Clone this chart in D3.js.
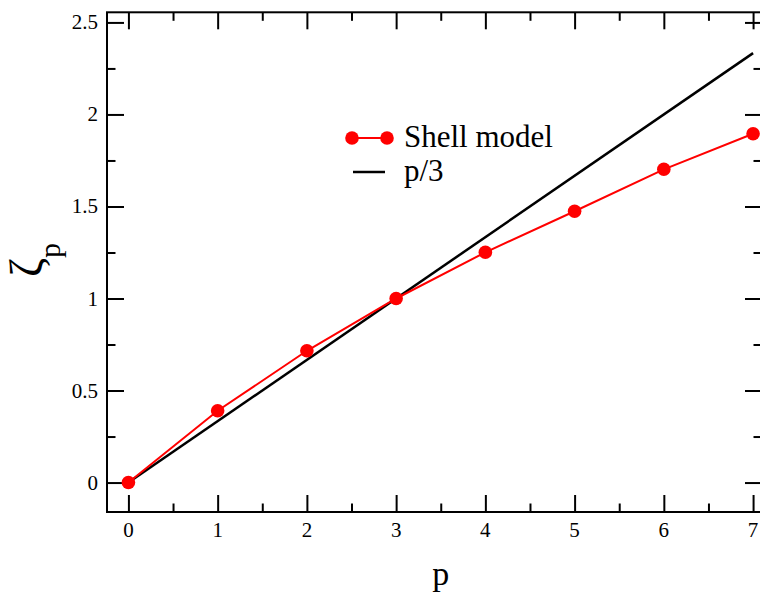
<!DOCTYPE html>
<html>
<head>
<meta charset="utf-8">
<script src="https://cdn.jsdelivr.net/npm/d3@7"></script>
<style>
  html, body { margin: 0; padding: 0; background: #fff; }
  svg { display: block; }
  text { font-family: "Liberation Serif", "Times New Roman", Times, "DejaVu Serif", serif; fill: #000; }
</style>
</head>
<body>
<svg id="chart" width="760" height="597"></svg>
<script>
// Scaling exponents zeta_p of the shell model vs. order p
const orders = [0, 1, 2, 3, 4, 5, 6, 7];
const shellZeta = [0, 0.39, 0.716, 1.0, 1.251, 1.474, 1.702, 1.895];
// K41 prediction p/3, drawn between its end points
const k41P = [0, 7];
const k41Zeta = [0, 7 / 3];

const xTicks = [0, 1, 2, 3, 4, 5, 6, 7];
const yTicks = [0, 0.5, 1, 1.5, 2, 2.5];
const yTickLabels = ["0", "0.5", "1", "1.5", "2", "2.5"];
const legendLabels = ["Shell model", "p/3"];

const svg = d3.select("#chart");
const plotLeft = 107, plotRight = 762, plotTop = 12.3, plotBottom = 512;

const x = d3.scaleLinear().domain([-0.24, 7.1]).range([plotLeft, plotRight]);
const y = d3.scaleLinear().domain([-0.16, 2.555]).range([plotBottom, plotTop]);

const majorLen = 17, minorLen = 8.5;
const xMinor = d3.range(0, 7.01, 0.5).filter(v => !xTicks.includes(v));
const yMinor = d3.range(0, 2.51, 0.25).filter(v => !yTicks.includes(v));

function tickAxis(axisGen, ticks, len, transform) {
  const g = svg.append("g").attr("transform", transform)
    .call(axisGen.tickValues(ticks).tickSize(len).tickSizeOuter(0).tickFormat(""));
  g.select(".domain").remove();
  g.selectAll(".tick line").attr("stroke", "#000").attr("stroke-width", 2);
  return g;
}

// inward ticks on all four sides
tickAxis(d3.axisTop(x), xTicks, majorLen, `translate(0,${plotBottom})`);
tickAxis(d3.axisTop(x), xMinor, minorLen, `translate(0,${plotBottom})`);
tickAxis(d3.axisBottom(x), xTicks, majorLen, `translate(0,${plotTop})`);
tickAxis(d3.axisBottom(x), xMinor, minorLen, `translate(0,${plotTop})`);
tickAxis(d3.axisRight(y), yTicks, majorLen, `translate(${plotLeft},0)`);
tickAxis(d3.axisRight(y), yMinor, minorLen, `translate(${plotLeft},0)`);
tickAxis(d3.axisLeft(y), yTicks, majorLen, `translate(${plotRight},0)`);
tickAxis(d3.axisLeft(y), yMinor, minorLen, `translate(${plotRight},0)`);

// frame
svg.append("rect")
  .attr("x", plotLeft).attr("y", plotTop)
  .attr("width", plotRight - plotLeft).attr("height", plotBottom - plotTop)
  .attr("fill", "none").attr("stroke", "#000").attr("stroke-width", 2);

// tick labels
svg.append("g").selectAll("text").data(xTicks).join("text")
  .attr("x", d => x(d)).attr("y", 537)
  .attr("text-anchor", "middle").attr("font-size", 21)
  .text(d => d);
svg.append("g").selectAll("text").data(yTicks).join("text")
  .attr("x", 98).attr("y", d => y(d) + 7)
  .attr("text-anchor", "end").attr("font-size", 21)
  .text((d, i) => yTickLabels[i]);

// axis titles
svg.append("text")
  .attr("x", x(3.5)).attr("y", 585)
  .attr("text-anchor", "middle").attr("font-size", 34)
  .text("p");

const yTitle = svg.append("text")
  .attr("transform", "translate(42,260) rotate(-90)")
  .attr("text-anchor", "middle").attr("font-size", 46);
yTitle.append("tspan").text("ζ");
yTitle.append("tspan").attr("font-size", 30).attr("dy", 18).text("p");

// p/3 line
const line = d3.line().x(d => x(d[0])).y(d => y(d[1]));
svg.append("path")
  .datum(k41P.map((p, i) => [p, k41Zeta[i]]))
  .attr("d", line)
  .attr("fill", "none").attr("stroke", "#000").attr("stroke-width", 2.5);

// shell model series
const shellData = orders.map((p, i) => [p, shellZeta[i]]);
svg.append("path")
  .datum(shellData)
  .attr("d", line)
  .attr("fill", "none").attr("stroke", "#ff0000").attr("stroke-width", 2);
svg.append("g").selectAll("circle").data(shellData).join("circle")
  .attr("cx", d => x(d[0])).attr("cy", d => y(d[1]))
  .attr("r", 6.8).attr("fill", "#ff0000");

// legend
const lg = svg.append("g");
lg.append("line").attr("x1", 352).attr("x2", 387).attr("y1", 138).attr("y2", 138)
  .attr("stroke", "#ff0000").attr("stroke-width", 2);
lg.selectAll("circle").data([352, 387]).join("circle")
  .attr("cx", d => d).attr("cy", 138).attr("r", 6.8).attr("fill", "#ff0000");
lg.append("text").attr("x", 404).attr("y", 147).attr("font-size", 31).text(legendLabels[0]);
lg.append("line").attr("x1", 353).attr("x2", 385).attr("y1", 172).attr("y2", 172)
  .attr("stroke", "#000").attr("stroke-width", 2.5);
lg.append("text").attr("x", 404).attr("y", 181).attr("font-size", 31).text(legendLabels[1]);
</script>
</body>
</html>
